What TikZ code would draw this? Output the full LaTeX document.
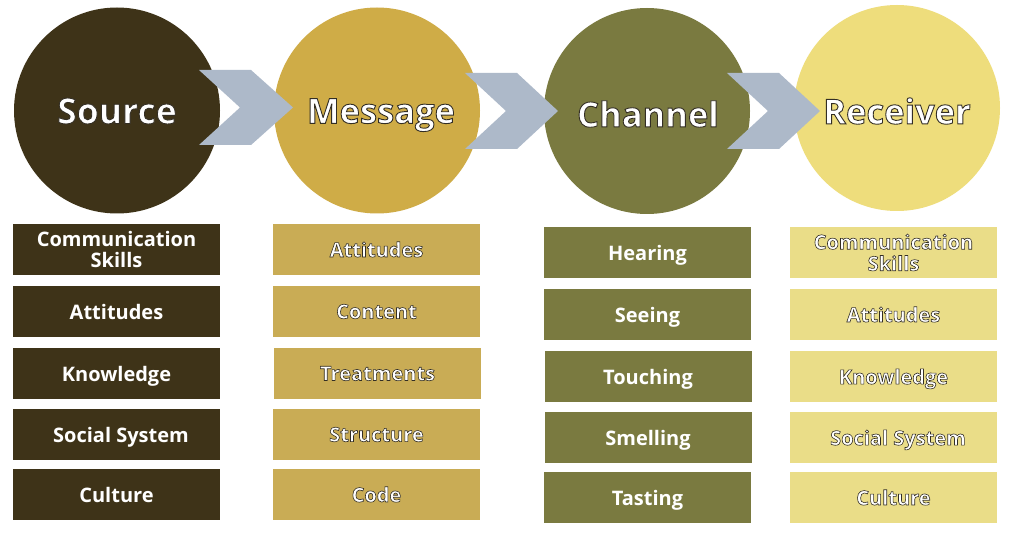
\documentclass[tikz,border=0pt]{standalone}
\usepackage{fontspec}
\setmainfont{Open Sans}[UprightFont=* Bold,BoldFont=* Bold]
\newcommand{\outl}[2]{\special{pdf:code q 2 Tr #1 w 0.2 0.18 0.14 RG 1 1 1 rg}#2\special{pdf:code Q}}
\newcommand{\nd}[1]{\raisebox{0pt}[\height][0pt]{#1}}
\definecolor{cSource}{HTML}{3E3318}
\definecolor{cMessage}{HTML}{CFAC47}
\definecolor{cMessageBox}{HTML}{C9AC55}
\definecolor{cChannel}{HTML}{7A7A40}
\definecolor{cReceiver}{HTML}{EEDD7C}
\definecolor{cReceiverBox}{HTML}{EADD88}
\definecolor{cChevron}{HTML}{ADB9C9}
\tikzset{
  x=1pt,y=-1pt,
  bigcircle/.style={circle,minimum size=206pt,inner sep=0pt,outer sep=0pt},
  bigtext/.style={text=white,inner sep=0pt,font=\fontsize{34.5}{34.5}\selectfont},
  itembox/.style={rectangle,minimum width=207pt,minimum height=51pt,inner sep=0pt,outer sep=0pt,text=white,align=center,font=\fontsize{20}{21.5}\selectfont},
  chev/.style={fill=cChevron,draw=none},
}
\begin{document}
\begin{tikzpicture}
\useasboundingbox (0,0) rectangle (1012,540);
\fill[white] (0,0) rectangle (1012,540);
\node[bigcircle,fill=cSource] (source) at (117,110.5) {};
\node[bigcircle,fill=cMessage] (message) at (377,110.5) {};
\node[bigcircle,fill=cChannel] (channel) at (647,111) {};
\node[bigcircle,fill=cReceiver] (receiver) at (897,108) {};
\fill[chev] (199,70) -- (251,70) -- (293,107.5) -- (251,145) -- (199,145) -- (240,107.5) -- cycle;
\fill[chev] (465,73) -- (517,73) -- (558,111) -- (517,149) -- (465,149) -- (506,111) -- cycle;
\fill[chev] (727,73) -- (779,73) -- (820,111) -- (779,149) -- (727,149) -- (768,111) -- cycle;
\node[bigtext,font=\fontsize{35.5}{35.5}\selectfont] (tsource) at (117,111) {\outl{0.9}{Source}};
\node[bigtext] (tmessage) at (381,111) {\nd{\outl{0.9}{Message}}};
\node[bigtext] (tchannel) at (648,114) {\outl{0.9}{Channel}};
\node[bigtext] (treceiver) at (897,111) {\outl{0.9}{Receiver}};
% Source column
\node[itembox,fill=cSource] (s1) at (116.5,249.5) {Communication\\Skills};
\node[itembox,fill=cSource] (s2) at (116.5,311.5) {Attitudes};
\node[itembox,fill=cSource] (s3) at (116.5,373.5) {\nd{Knowledge}};
\node[itembox,fill=cSource] (s4) at (116.5,434.5) {\hspace*{9pt}\nd{Social System}};
\node[itembox,fill=cSource] (s5) at (116.5,494.5) {Culture};
% Message column
\node[itembox,fill=cMessageBox] (m1) at (376.5,249.5) {\outl{0.6}{Attitudes}};
\node[itembox,fill=cMessageBox] (m2) at (376.5,311.5) {\outl{0.6}{Content}};
\node[itembox,fill=cMessageBox] (m3) at (377.5,373.5) {\outl{0.6}{Treatments}};
\node[itembox,fill=cMessageBox] (m4) at (376.5,434.5) {\outl{0.6}{Structure}};
\node[itembox,fill=cMessageBox] (m5) at (376.5,494.5) {\outl{0.6}{Code}};
% Channel column
\node[itembox,fill=cChannel] (c1) at (647.5,252.5) {\nd{Hearing}};
\node[itembox,fill=cChannel] (c2) at (647.5,314.5) {\nd{Seeing}};
\node[itembox,fill=cChannel] (c3) at (648,376.5) {\nd{Touching}};
\node[itembox,fill=cChannel] (c4) at (648,437.5) {\nd{Smelling}};
\node[itembox,fill=cChannel] (c5) at (647.5,497.5) {\nd{Tasting}};
% Receiver column
\node[itembox,fill=cReceiverBox] (r1) at (893.5,252.5) {\outl{0.6}{Communication}\\\outl{0.6}{Skills}};
\node[itembox,fill=cReceiverBox] (r2) at (893.5,314.5) {\outl{0.6}{Attitudes}};
\node[itembox,fill=cReceiverBox] (r3) at (893.5,376.5) {\nd{\outl{0.6}{Knowledge}}};
\node[itembox,fill=cReceiverBox] (r4) at (893.5,437.5) {\hspace*{9pt}\nd{\outl{0.6}{Social System}}};
\node[itembox,fill=cReceiverBox] (r5) at (893.5,497.5) {\outl{0.6}{Culture}};
\end{tikzpicture}
\end{document}
